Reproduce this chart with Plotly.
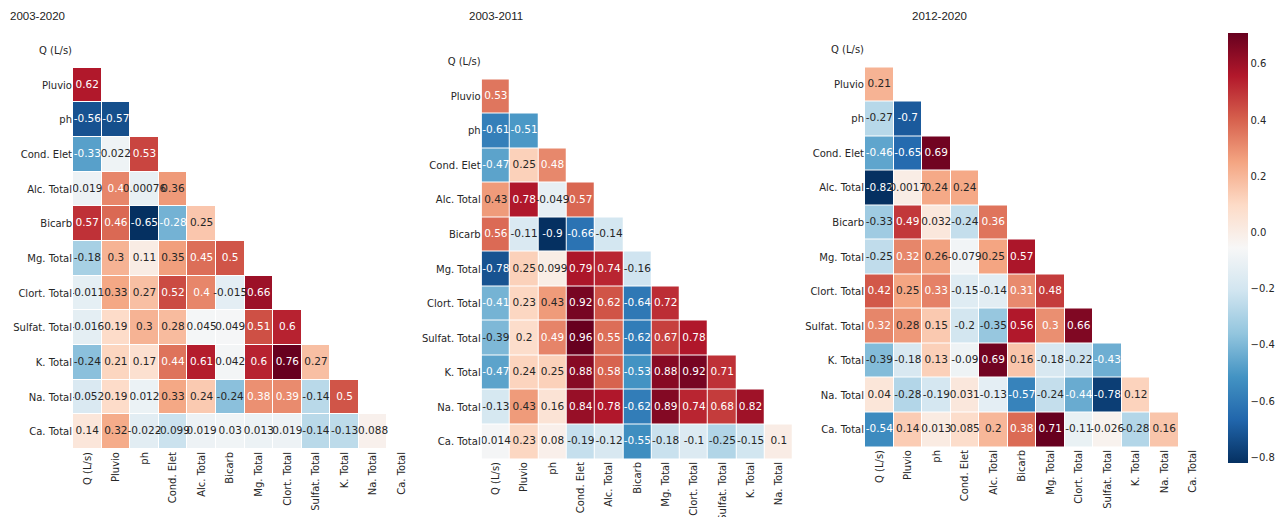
import plotly.graph_objects as go

labels = ["Q (L/s)", "Pluvio", "ph", "Cond. Elet", "Alc. Total", "Bicarb",
          "Mg. Total", "Clort. Total", "Sulfat. Total", "K. Total", "Na. Total", "Ca. Total"]

titles = ["2003-2020", "2003-2011", "2012-2020"]

# lower-triangle rows (row i holds correlations with columns 0..i-1)
corr_2003_2020 = [
    [],
    [0.62],
    [-0.56, -0.57],
    [-0.33, 0.022, 0.53],
    [0.019, 0.4, 0.00076, 0.36],
    [0.57, 0.46, -0.65, -0.28, 0.25],
    [-0.18, 0.3, 0.11, 0.35, 0.45, 0.5],
    [-0.011, 0.33, 0.27, 0.52, 0.4, -0.015, 0.66],
    [-0.016, 0.19, 0.3, 0.28, 0.045, 0.049, 0.51, 0.6],
    [-0.24, 0.21, 0.17, 0.44, 0.61, 0.042, 0.6, 0.76, 0.27],
    [-0.052, 0.19, 0.012, 0.33, 0.24, -0.24, 0.38, 0.39, -0.14, 0.5],
    [0.14, 0.32, -0.022, -0.099, 0.019, 0.03, 0.013, 0.019, -0.14, -0.13, 0.088],
]

corr_2003_2011 = [
    [],
    [0.53],
    [-0.61, -0.51],
    [-0.47, 0.25, 0.48],
    [0.43, 0.78, -0.049, 0.57],
    [0.56, -0.11, -0.9, -0.66, -0.14],
    [-0.78, 0.25, 0.099, 0.79, 0.74, -0.16],
    [-0.41, 0.23, 0.43, 0.92, 0.62, -0.64, 0.72],
    [-0.39, 0.2, 0.49, 0.96, 0.55, -0.62, 0.67, 0.78],
    [-0.47, 0.24, 0.25, 0.88, 0.58, -0.53, 0.88, 0.92, 0.71],
    [-0.13, 0.43, 0.16, 0.84, 0.78, -0.62, 0.89, 0.74, 0.68, 0.82],
    [0.014, 0.23, 0.08, -0.19, -0.12, -0.55, -0.18, -0.1, -0.25, -0.15, 0.1],
]

corr_2012_2020 = [
    [],
    [0.21],
    [-0.27, -0.7],
    [-0.46, -0.65, 0.69],
    [-0.82, 0.0017, 0.24, 0.24],
    [-0.33, 0.49, 0.032, -0.24, 0.36],
    [-0.25, 0.32, 0.26, -0.079, 0.25, 0.57],
    [0.42, 0.25, 0.33, -0.15, -0.14, 0.31, 0.48],
    [0.32, 0.28, 0.15, -0.2, -0.35, 0.56, 0.3, 0.66],
    [-0.39, -0.18, 0.13, -0.09, 0.69, 0.16, -0.18, -0.22, -0.43],
    [0.04, -0.28, -0.19, 0.031, -0.13, -0.57, -0.24, -0.44, -0.78, 0.12],
    [-0.54, 0.14, 0.013, 0.085, 0.2, 0.38, 0.71, -0.11, -0.026, -0.28, 0.16],
]

ncols = [12, 11, 12]
panels = [corr_2003_2020, corr_2003_2011, corr_2012_2020]

# RdBu_r (ColorBrewer 11 classes)
rdbu_r = [(5, 48, 97), (33, 102, 172), (67, 147, 195), (146, 197, 222), (209, 229, 240),
          (247, 247, 247), (253, 219, 199), (244, 165, 130), (214, 96, 77), (178, 24, 43),
          (103, 0, 31)]
colorscale = [[i / 10, "rgb(%d,%d,%d)" % c] for i, c in enumerate(rdbu_r)]


def cmap(t):
    t = min(max(t, 0.0), 1.0) * 10
    i = min(int(t), 9)
    f = t - i
    a, b = rdbu_r[i], rdbu_r[i + 1]
    return [(a[k] + (b[k] - a[k]) * f) / 255 for k in range(3)]


def lum(rgb):
    lin = [c / 12.92 if c <= 0.03928 else ((c + 0.055) / 1.055) ** 2.4 for c in rgb]
    return 0.2126 * lin[0] + 0.7152 * lin[1] + 0.0722 * lin[2]


# pixel layout (1275 x 517)
W, H = 1275, 517
xdom_px = [(73, 416), (481.7, 793), (865, 1207)]
ydom_px = [(33, 449), (44.5, 459), (32.5, 447)]
title_x_px = [8, 467, 910]

fig = go.Figure()
lab_font = dict(family="DejaVu Sans", size=10, color="#262626")

for p, rows in enumerate(panels):
    nc = ncols[p]
    vals = [v for r in rows for v in r]
    vmin, vmax = min(vals), max(vals)
    z = [[(rows[i][j] if j < i else None) for j in range(nc)] for i in range(12)]
    sfx = "" if p == 0 else str(p + 1)
    cb = None
    if p == 2:
        cb = dict(
            thickness=20, thicknessmode="pixels",
            len=430, lenmode="pixels",
            x=1228 / W, xanchor="left", xpad=0,
            y=1 - 248 / H, yanchor="middle", ypad=0,
            outlinewidth=0, tickformat=".1f",
            tickvals=[-0.8, -0.6, -0.4, -0.2, 0.0, 0.2, 0.4, 0.6],
            ticks="", tickfont=lab_font,
        )
    fig.add_trace(go.Heatmap(
        z=z, x=list(range(nc)), y=list(range(12)),
        zmin=vmin, zmax=vmax, colorscale=colorscale,
        xgap=1, ygap=1, showscale=(p == 2), colorbar=cb,
        xaxis="x" + sfx, yaxis="y" + sfx, hoverinfo="skip",
    ))
    tx, ty, tt, tc = [], [], [], []
    for i, r in enumerate(rows):
        for j, v in enumerate(r):
            tx.append(j)
            ty.append(i)
            tt.append(f"{v:.2g}")
            col = cmap((v - vmin) / (vmax - vmin))
            tc.append("#262626" if lum(col) > 0.408 else "#ffffff")
    fig.add_trace(go.Scatter(
        x=tx, y=ty, text=tt, mode="text", textposition="middle center",
        textfont=dict(family="DejaVu Sans", size=10.5, color=tc),
        xaxis="x" + sfx, yaxis="y" + sfx, hoverinfo="skip", showlegend=False,
    ))
    x0, x1 = xdom_px[p]
    y0, y1 = ydom_px[p]
    fig.layout["xaxis" + sfx] = dict(
        domain=[x0 / W, x1 / W], range=[-0.5, nc - 0.5], anchor="y" + sfx,
        tickvals=list(range(nc)), ticktext=labels[:nc], tickangle=-90,
        showgrid=False, zeroline=False, showline=False, ticks="",
        tickfont=lab_font, automargin=False, fixedrange=True,
    )
    fig.layout["yaxis" + sfx] = dict(
        domain=[1 - y1 / H, 1 - y0 / H], range=[11.5, -0.5], anchor="x" + sfx,
        tickvals=list(range(12)), ticktext=labels,
        showgrid=False, zeroline=False, showline=False, ticks="",
        tickfont=lab_font, automargin=False, fixedrange=True,
    )
    fig.add_annotation(
        text=titles[p], xref="paper", yref="paper",
        x=title_x_px[p] / W, y=1 - 16 / H, xanchor="left", yanchor="middle",
        showarrow=False, font=dict(family="Liberation Sans", size=11.5, color="#222222"),
    )

fig.update_layout(
    width=W, height=H, margin=dict(l=0, r=0, t=0, b=0),
    paper_bgcolor="white", plot_bgcolor="white", showlegend=False,
)

fig.write_html("out.html")
